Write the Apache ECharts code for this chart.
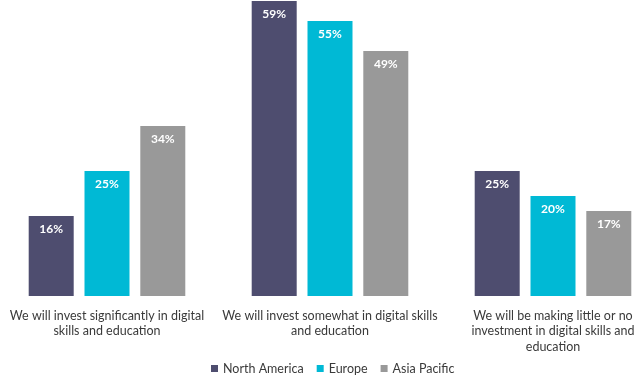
<!DOCTYPE html>
<html>
<head>
<meta charset="utf-8">
<script src="https://cdn.jsdelivr.net/npm/echarts@6/dist/echarts.min.js"></script>
<style>
  html, body { margin: 0; padding: 0; background: #fff; }
  #chart { width: 640px; height: 377px; }
</style>
</head>
<body>
<div id="chart"></div>
<script>
// Categories (line breaks as in the original)
const categories = [
    'We will invest significantly in digital\nskills and education',
    'We will invest somewhat in digital skills\nand education',
    'We will be making little or no\ninvestment in digital skills and\neducation'
];

// Series values (%)
const northAmerica = [16, 59, 25];
const europe = [25, 55, 20];
const asiaPacific = [34, 49, 17];

const seriesNames = ['North America', 'Europe', 'Asia Pacific'];
const seriesColors = ['#4e4d6f', '#00b9d5', '#999999'];

const chart = echarts.init(document.getElementById('chart'));

const makeSeries = (name, data, color) => ({
    name: name,
    type: 'bar',
    data: data,
    barWidth: 45,
    barGap: '24%',
    itemStyle: { color: color },
    label: {
        show: true,
        position: 'insideTop',
        distance: 7,
        color: '#ffffff',
        fontFamily: 'Lato',
        fontSize: 12,
        fontWeight: 'bold',
        formatter: '{c}%'
    }
});

chart.setOption({
    animation: false,
    grid: {
        left: -4.5, top: 0, width: 669, bottom: 81,
        outerBoundsMode: 'none'
    },
    xAxis: {
        type: 'category',
        data: categories,
        axisLine: { show: false },
        axisTick: { show: false },
        axisLabel: {
            interval: 0,
            margin: 12,
            color: '#3a3a3a',
            fontFamily: 'Lato',
            fontSize: 12.5,
            lineHeight: 15.5
        }
    },
    yAxis: {
        type: 'value',
        min: 0,
        max: 59.2,
        show: false
    },
    legend: {
        data: seriesNames,
        top: 357,
        left: 206,
        icon: 'rect',
        itemWidth: 7,
        itemHeight: 7,
        itemGap: 13,
        textStyle: { color: '#3a3a3a', fontFamily: 'Lato', fontSize: 12.5 }
    },
    series: [
        makeSeries(seriesNames[0], northAmerica, seriesColors[0]),
        makeSeries(seriesNames[1], europe, seriesColors[1]),
        makeSeries(seriesNames[2], asiaPacific, seriesColors[2])
    ]
});
</script>
</body>
</html>
